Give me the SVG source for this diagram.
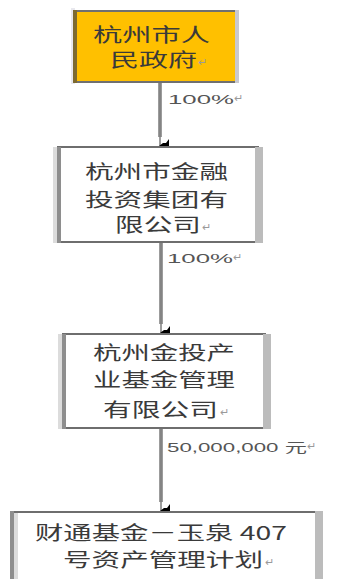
<svg xmlns="http://www.w3.org/2000/svg" width="340" height="579" viewBox="0 0 340 579">
<style>
.t{font-family:"Noto Sans CJK SC","Noto Sans",sans-serif;font-size:19px;fill:#3a3a3a;}
.r{font-family:"Noto Sans CJK SC","Noto Sans",sans-serif;font-size:11px;fill:#9a9a9a;}
.l{font-family:"Liberation Sans","Noto Sans CJK SC",sans-serif;font-size:13px;fill:#555;}
.box{fill:#fff;stroke:#6e6e6e;stroke-width:2;}
.sl{fill:#dcdcdc;}
.sd{fill:#8e8e8e;}
.sr{fill:#bcbcbc;}
.c{stroke:#9c9c9c;stroke-width:4;fill:none;}
.ci{stroke:#7c7c7c;stroke-width:1.5;fill:none;}
</style>
<defs>
<marker id="ah" markerWidth="14" markerHeight="10" refX="7" refY="9" orient="auto" markerUnits="userSpaceOnUse" viewBox="0 0 14 10">
<path d="M0,0 H14 L10,3 V6 L7,10 L4,6 V3 Z" fill="#000"/>
</marker>
</defs>
<g id="connectors">
<line class="c" x1="160" y1="82" x2="160" y2="137"/>
<line class="ci" x1="160" y1="82" x2="160" y2="146" marker-end="url(#ah)"/>
<line class="c" x1="161" y1="242" x2="161" y2="324"/>
<line class="ci" x1="161" y1="242" x2="161" y2="333" marker-end="url(#ah)"/>
<line class="c" x1="161" y1="428" x2="161" y2="502"/>
<line class="ci" x1="161" y1="428" x2="161" y2="511" marker-end="url(#ah)"/>
<text class="l" x="168" y="104" textLength="66" lengthAdjust="spacingAndGlyphs">100%</text><text class="r" x="234" y="102">↵</text>
<text class="l" x="167" y="263" textLength="66" lengthAdjust="spacingAndGlyphs">100%</text><text class="r" x="233" y="261">↵</text>
<text class="l" x="167" y="452" textLength="140" lengthAdjust="spacingAndGlyphs">50,000,000 元</text><text class="r" x="307" y="450">↵</text>
</g>
<g id="n1">
<rect x="71" y="8" width="4" height="76" fill="#e8e8ee"/>
<rect x="74" y="11" width="162" height="71" fill="#ffc000" stroke="#707070" stroke-width="2"/>
<rect x="73" y="10" width="4" height="73" fill="#7d6a30"/>
<rect x="235" y="10" width="4" height="73" fill="#c9c9cf"/>
<text class="t" x="93" y="42" textLength="117" lengthAdjust="spacingAndGlyphs">杭州市人</text>
<text class="t" x="110" y="67" textLength="87" lengthAdjust="spacingAndGlyphs">民政府</text><text class="r" x="198" y="66">↵</text>
</g>
<g id="n2">
<rect class="box" x="58" y="147" width="200" height="95"/>
<rect class="sl" x="53" y="147" width="4" height="96"/>
<rect class="sd" x="57" y="147" width="4" height="96"/>
<rect class="sr" x="255" y="147" width="8" height="96"/>
<text class="t" x="85" y="179" textLength="143" lengthAdjust="spacingAndGlyphs">杭州市金融</text>
<text class="t" x="85" y="207" textLength="143" lengthAdjust="spacingAndGlyphs">投资集团有</text>
<text class="t" x="115" y="232" textLength="86" lengthAdjust="spacingAndGlyphs">限公司</text><text class="r" x="202" y="231">↵</text>
</g>
<g id="n3">
<rect class="box" x="63" y="334" width="202" height="94"/>
<rect class="sl" x="58" y="334" width="4" height="95"/>
<rect class="sd" x="62" y="334" width="4" height="95"/>
<rect class="sr" x="263" y="334" width="8" height="95"/>
<text class="t" x="93" y="360" textLength="142" lengthAdjust="spacingAndGlyphs">杭州金投产</text>
<text class="t" x="93" y="387" textLength="142" lengthAdjust="spacingAndGlyphs">业基金管理</text>
<text class="t" x="103" y="417" textLength="115" lengthAdjust="spacingAndGlyphs">有限公司</text><text class="r" x="220" y="416">↵</text>
</g>
<g id="n4">
<rect class="box" x="14" y="512" width="303" height="80"/>
<rect class="sd" x="10" y="511" width="4" height="68"/>
<rect class="sl" x="14" y="513" width="4" height="66"/>
<rect class="sr" x="315" y="511" width="8" height="68"/>
<text class="t" x="35" y="540" textLength="252" lengthAdjust="spacingAndGlyphs">财通基金－玉泉 407</text>
<text class="t" x="63" y="567" textLength="200" lengthAdjust="spacingAndGlyphs">号资产管理计划</text><text class="r" x="265" y="566">↵</text>
</g>
</svg>
